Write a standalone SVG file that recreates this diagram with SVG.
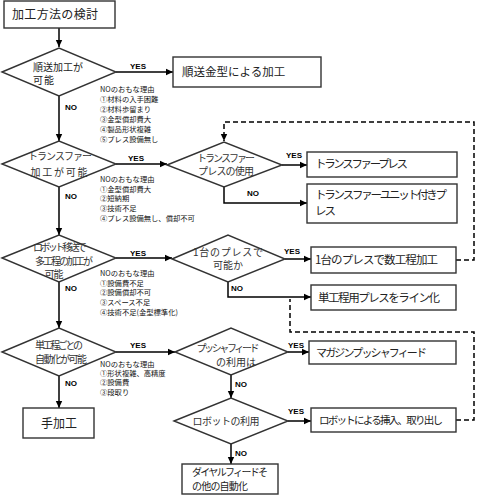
<svg xmlns="http://www.w3.org/2000/svg" width="478" height="500" viewBox="0 0 478 500">
<defs>
<marker id="arr" markerUnits="userSpaceOnUse" markerWidth="8" markerHeight="8" refX="7" refY="4" orient="auto">
<path d="M0,0.8 L7,4 L0,7.2 Z" fill="#000"/>
</marker>
<style>
.shape{fill:#fff;stroke:#333;stroke-width:1.4}
.con{fill:none;stroke:#000;stroke-width:1.5}
.dash{fill:none;stroke:#000;stroke-width:1.5;stroke-dasharray:5,3}
.t{font-family:"Noto Sans CJK JP","Noto Sans",sans-serif;fill:#222}
.bt{font-size:12px}
.dt{font-size:10px;text-anchor:middle;fill:#333}
.note{font-family:"Noto Sans CJK JP","Noto Sans",sans-serif;font-size:7.3px;fill:#111}
.yn{font-family:"Liberation Sans",Arial,sans-serif;font-size:8px;font-weight:bold;fill:#000}
</style>
</defs>
<rect width="478" height="500" fill="#fff"/>

<g id="connectors">
<path class="con" d="M59,28 V47" marker-end="url(#arr)"/>
<path class="con" d="M116,72 H173" marker-end="url(#arr)"/>
<path class="con" d="M59,96 V141" marker-end="url(#arr)"/>
<path class="con" d="M116,164 H167" marker-end="url(#arr)"/>
<path class="con" d="M282,165 H307" marker-end="url(#arr)"/>
<path class="con" d="M224,187 V203 H307" marker-end="url(#arr)"/>
<path class="con" d="M59,187 V235" marker-end="url(#arr)"/>
<path class="con" d="M116,258 H172" marker-end="url(#arr)"/>
<path class="con" d="M285,259 H311" marker-end="url(#arr)"/>
<path class="con" d="M228,282 V297 H311" marker-end="url(#arr)"/>
<path class="con" d="M59,282 V328" marker-end="url(#arr)"/>
<path class="con" d="M116,352 H175" marker-end="url(#arr)"/>
<path class="con" d="M288,352 H309" marker-end="url(#arr)"/>
<path class="con" d="M231,375 V398" marker-end="url(#arr)"/>
<path class="con" d="M288,421 H311" marker-end="url(#arr)"/>
<path class="con" d="M231,444 V464" marker-end="url(#arr)"/>
<path class="con" d="M59,376 V408" marker-end="url(#arr)"/>
<path class="dash" d="M456,260 H474 V122 H224 V141" marker-end="url(#arr)"/>
<path class="dash" d="M456,420 H474 V332 H290 V299"/>
<text class="yn" x="130" y="69">YES</text>
<text class="yn" x="65" y="110">NO</text>
<text class="yn" x="128" y="161">YES</text>
<text class="yn" x="65" y="199">NO</text>
<text class="yn" x="286" y="158">YES</text>
<text class="yn" x="247" y="196">NO</text>
<text class="yn" x="130" y="256">YES</text>
<text class="yn" x="65" y="291">NO</text>
<text class="yn" x="284" y="254">YES</text>
<text class="yn" x="231" y="291">NO</text>
<text class="yn" x="130" y="348">YES</text>
<text class="yn" x="65" y="386">NO</text>
<text class="yn" x="288" y="348">YES</text>
<text class="yn" x="235" y="387">NO</text>
<text class="yn" x="288" y="414">YES</text>
<text class="yn" x="235" y="456">NO</text>
</g>

<g id="start">
<rect class="shape" x="4" y="1" width="111" height="27"/>
<text class="t bt" x="12" y="19" textLength="86">加工方法の検討</text>
</g>

<g id="d1">
<polygon class="shape" points="2,72 59,48 116,72 59,96"/>
<text class="t" font-size="10" fill="#333" x="33" y="70.5" textLength="50">順送加工が</text>
<text class="t" font-size="10" fill="#333" x="33" y="84" textLength="21">可能</text>
</g>
<g id="n1">
<text class="note" x="100" y="92">NOのおもな理由</text>
<text class="note" x="100" y="102">①材料の入手困難</text>
<text class="note" x="100" y="112">②材料歩留まり</text>
<text class="note" x="100" y="122">③金型償却費大</text>
<text class="note" x="100" y="132">④製品形状複雑</text>
<text class="note" x="100" y="142">⑤プレス設備無し</text>
</g>
<g id="b1">
<rect class="shape" x="173" y="57" width="148" height="30"/>
<text class="t" font-size="11.5" x="182" y="76">順送金型による加工</text>
</g>

<g id="d2">
<polygon class="shape" points="2,164 59,141 116,164 59,187"/>
<text class="t dt" font-size="11" x="60" y="160" textLength="64">トランスファー</text>
<text class="t dt" font-size="11" x="59" y="176" textLength="57">加工が可能</text>
</g>
<g id="n2">
<text class="note" x="100" y="182">NOのおもな理由</text>
<text class="note" x="100" y="191.5">①金型償却費大</text>
<text class="note" x="100" y="201">②短納期</text>
<text class="note" x="100" y="211">③技術不足</text>
<text class="note" x="100" y="221">④プレス設備無し、償却不可</text>
</g>
<g id="d3">
<polygon class="shape" points="167,165 224,142 282,165 224,187"/>
<text class="t dt" x="226" y="161.5" textLength="58">トランスファー</text>
<text class="t dt" x="226" y="175" textLength="56">プレスの使用</text>
</g>
<g id="b2">
<rect class="shape" x="307" y="152" width="150" height="25"/>
<text class="t" font-size="11.5" x="315" y="168" textLength="93">トランスファープレス</text>
</g>
<g id="b3">
<rect class="shape" x="307" y="184" width="150" height="39"/>
<text class="t" font-size="11.5" x="315" y="199" textLength="132">トランスファーユニット付きプ</text>
<text class="t" font-size="11.5" x="315" y="215" textLength="21">レス</text>
</g>

<g id="d4">
<polygon class="shape" points="2,258 59,235 116,258 59,282"/>
<text class="t dt" font-size="9.2" x="60" y="251" textLength="54">ロボット移送で</text>
<text class="t dt" font-size="9.2" x="64" y="264.5" textLength="58">多工程の加工が</text>
<text class="t dt" font-size="9.2" x="54" y="278" textLength="19">可能</text>
</g>
<g id="n3">
<text class="note" x="100" y="276">NOのおもな理由</text>
<text class="note" x="100" y="286">①設備費不足</text>
<text class="note" x="100" y="295">②設備償却不可</text>
<text class="note" x="100" y="305">③スペース不足</text>
<text class="note" x="100" y="315">④技術不足(金型標準化)</text>
</g>
<g id="d5">
<polygon class="shape" points="172,259 228,235 285,259 228,282"/>
<text class="t dt" x="228" y="255.5" textLength="70">1台のプレスで</text>
<text class="t dt" x="228" y="269">可能か</text>
</g>
<g id="b4">
<rect class="shape" x="311" y="247" width="145" height="26"/>
<text class="t" font-size="11.5" x="315" y="264" textLength="123">1台のプレスで数工程加工</text>
</g>
<g id="b5">
<rect class="shape" x="311" y="285" width="145" height="25"/>
<text class="t" font-size="11.5" x="318" y="302" textLength="122">単工程用プレスをライン化</text>
</g>

<g id="d6">
<polygon class="shape" points="2,352 59,328 116,352 59,376"/>
<text class="t dt" font-size="9.2" x="59" y="349" textLength="48">単工程ごとの</text>
<text class="t dt" font-size="9.2" x="61" y="362.5" textLength="52">自動化が可能</text>
</g>
<g id="n4">
<text class="note" x="100" y="366.5">NOのおもな理由</text>
<text class="note" x="100" y="376">①形状複雑、高精度</text>
<text class="note" x="100" y="385">②設備費</text>
<text class="note" x="100" y="394.5">③段取り</text>
</g>
<g id="d7">
<polygon class="shape" points="175,352 231,328 288,352 231,375"/>
<text class="t dt" x="228" y="352" textLength="63">プッシャフィード</text>
<text class="t dt" x="236" y="366">の利用は</text>
</g>
<g id="b6">
<rect class="shape" x="309" y="341" width="147" height="23"/>
<text class="t" font-size="11" x="316" y="357" textLength="111">マガジンプッシャフィード</text>
</g>
<g id="d8">
<polygon class="shape" points="174,421 231,398 288,421 231,444"/>
<text class="t dt" font-size="11" x="226" y="425" textLength="67">ロボットの利用</text>
</g>
<g id="b7">
<rect class="shape" x="311" y="408" width="145" height="24"/>
<text class="t" font-size="10.5" x="319" y="424" textLength="124">ロボットによる挿入、取り出し</text>
</g>
<g id="b8">
<rect class="shape" x="23" y="408" width="71" height="30"/>
<text class="t" font-size="12" x="59" y="428" text-anchor="middle">手加工</text>
</g>
<g id="b9">
<rect class="shape" x="182" y="464" width="96" height="30"/>
<text class="t" font-size="10" x="192" y="476" textLength="76">ダイヤルフィードそ</text>
<text class="t" font-size="10" x="192" y="490" textLength="56">の他の自動化</text>
</g>
</svg>
